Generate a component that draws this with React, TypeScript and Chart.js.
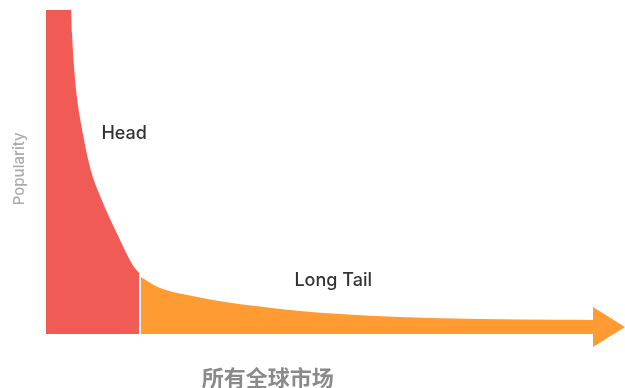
import React, { useEffect, useRef } from "react";
import { Chart, registerables } from "chart.js";

Chart.register(...registerables);

// Head (popular items): rank position vs popularity
const headX = [0, 4.32, 4.49, 4.84, 5.41, 6.34, 7.6, 9.62, 12.21, 15.2, 16.11];
const headY = [100, 100, 92.9, 82.4, 72.2, 62.0, 51.5, 41.4, 31.2, 20.7, 18.8];

// Long tail (niche items)
const tailX = [16.41, 19.69, 24.87, 30.92, 36.96, 43.87, 50.78, 61.14, 74.96, 88.77, 94.47];
const tailY = [17.59, 14.2, 11.88, 9.88, 8.49, 7.1, 6.17, 5.25, 4.63, 4.38, 4.32];

// Arrow head at the end of the tail
const arrowX = [94.47, 100, 94.47, 94.47];
const arrowY = [8.3, 2.16, -4.0, 8.3];

// Text labels
const labelTexts = ["Head", "Long Tail"];
const labelX = [13.5, 49.6];
const labelY = [62, 16.4];
const yTitle = "Popularity";
const xTitle = "所有全球市场";

const RED = "#F15B55";
const ORANGE = "#FE9B33";

const toPts = (xs: number[], ys: number[]) => xs.map((x, i) => ({ x, y: ys[i] }));

const textPlugin = {
  id: "longTailText",
  afterDatasetsDraw(chart: any) {
    const { ctx, scales, chartArea } = chart;
    const xs = scales.x;
    const ys = scales.y;
    ctx.save();
    ctx.textAlign = "center";
    ctx.textBaseline = "middle";
    ctx.fillStyle = "#333333";
    ctx.font = "500 18px Inter, 'Noto Sans', sans-serif";
    labelTexts.forEach((t, i) => {
      ctx.fillText(t, xs.getPixelForValue(labelX[i]), ys.getPixelForValue(labelY[i]));
    });
    // x-axis title
    ctx.fillStyle = "#8a8a8a";
    ctx.font = "bold 22px 'Noto Sans CJK SC', sans-serif";
    ctx.fillText(xTitle, xs.getPixelForValue(38.3), ys.getPixelForValue(-13.6));
    // y-axis title
    ctx.translate(chartArea.left - 27, ys.getPixelForValue(51));
    ctx.rotate(-Math.PI / 2);
    ctx.fillStyle = "#ababab";
    ctx.font = "500 15px Inter, 'Noto Sans', sans-serif";
    ctx.fillText(yTitle, 0, 0);
    ctx.restore();
  },
};

export default function App() {
  const ref = useRef<HTMLCanvasElement>(null);
  useEffect(() => {
    document.body.style.margin = "0";
    const chart = new Chart(ref.current as HTMLCanvasElement, {
      type: "line",
      data: {
        datasets: [
          {
            data: toPts(headX, headY),
            backgroundColor: RED,
            borderColor: RED,
            borderWidth: 0,
            pointRadius: 0,
            fill: "origin",
            cubicInterpolationMode: "monotone",
          },
          {
            data: toPts(tailX, tailY),
            backgroundColor: ORANGE,
            borderColor: ORANGE,
            borderWidth: 0,
            pointRadius: 0,
            fill: "origin",
            cubicInterpolationMode: "monotone",
          },
          {
            data: toPts(arrowX, arrowY),
            backgroundColor: ORANGE,
            borderColor: ORANGE,
            borderWidth: 0,
            pointRadius: 0,
            fill: "shape",
            tension: 0,
          },
        ],
      },
      options: {
        animation: false,
        responsive: true,
        maintainAspectRatio: false,
        layout: { padding: { left: 46, right: 0, top: 10, bottom: 0 } },
        plugins: { legend: { display: false }, tooltip: { enabled: false } },
        scales: {
          x: { type: "linear", min: 0, max: 100, display: false },
          y: { type: "linear", min: -16.67, max: 100, display: false },
        },
      },
      plugins: [textPlugin],
    });
    return () => chart.destroy();
  }, []);
  return (
    <div style={{ width: 625, height: 388, position: "relative" }}>
      <canvas ref={ref} />
    </div>
  );
}
